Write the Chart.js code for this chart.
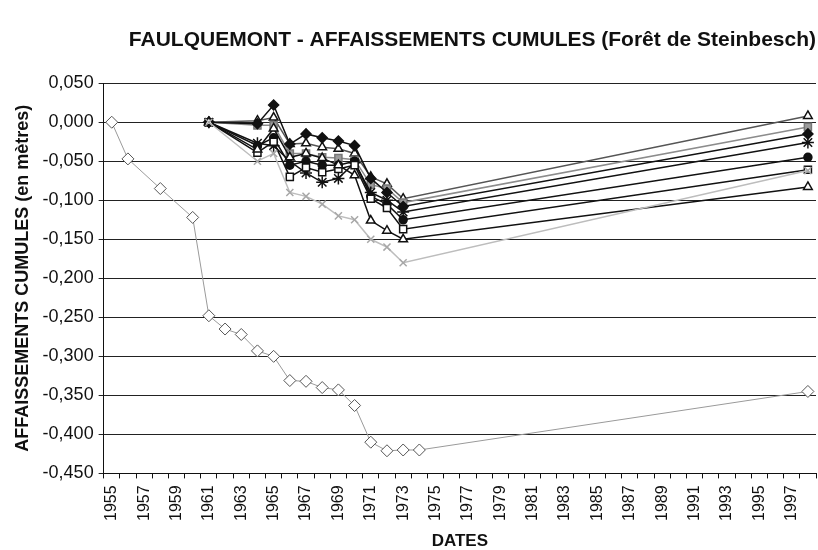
<!DOCTYPE html>
<html>
<head>
<meta charset="utf-8">
<script src="https://cdn.jsdelivr.net/npm/chart.js@4.4.0/dist/chart.umd.min.js"></script>
<style>
  html, body { margin: 0; padding: 0; background: #fff; }
  #wrap { width: 818px; height: 550px; }
</style>
</head>
<body>
<div id="wrap"><canvas id="subsidenceChart"></canvas></div>
<script>
// axe des dates (une catégorie par année)
var years = ['1955','1956','1957','1958','1959','1960','1961','1962','1963','1964',
  '1965','1966','1967','1968','1969','1970','1971','1972','1973','1974','1975','1976',
  '1977','1978','1979','1980','1981','1982','1983','1984','1985','1986','1987','1988',
  '1989','1990','1991','1992','1993','1994','1995','1996','1997','1998'];

// repère ancien (losanges blancs)
var oldYears = [1955,1956,1958,1960,1961,1962,1963,1964,1965,1966,1967,1968,1969,1970,1971,1972,1973,1974,1998];
var oldValues = [0,-0.047,-0.085,-0.122,-0.248,-0.265,-0.272,-0.293,-0.300,-0.331,-0.332,-0.340,-0.343,-0.363,-0.410,-0.421,-0.420,-0.420,-0.345];

// repères de la forêt (mesures 1961 -> 1998)
var forestYears = [1961,1964,1965,1966,1967,1968,1969,1970,1971,1972,1973,1998];
var triTop    = [0, 0.002, 0.006,-0.028,-0.027,-0.032,-0.034,-0.040,-0.070,-0.079,-0.098, 0.008];
var graySq    = [0,-0.004,-0.004,-0.040,-0.040,-0.045,-0.046,-0.048,-0.080,-0.085,-0.103,-0.006];
var blackDia  = [0,-0.002, 0.022,-0.028,-0.015,-0.020,-0.024,-0.030,-0.072,-0.090,-0.108,-0.015];
var asterisk  = [0,-0.027,-0.030,-0.050,-0.065,-0.077,-0.072,-0.052,-0.090,-0.100,-0.115,-0.026];
var circle    = [0,-0.030,-0.020,-0.055,-0.050,-0.055,-0.055,-0.050,-0.095,-0.105,-0.125,-0.045];
var openSq    = [0,-0.039,-0.025,-0.070,-0.058,-0.064,-0.060,-0.055,-0.098,-0.110,-0.137,-0.061];
var triLow    = [0,-0.035,-0.008,-0.045,-0.040,-0.046,-0.055,-0.068,-0.126,-0.139,-0.150,-0.083];
var lightX    = [0,-0.050,-0.040,-0.090,-0.095,-0.105,-0.120,-0.125,-0.150,-0.160,-0.180,-0.062];

function pts(ys, vals) {
  return ys.map(function(y, i) { return { x: String(y), y: vals[i] }; });
}

function serie(vals, style, line, fill, marker, radius) {
  return {
    data: pts(forestYears, vals),
    borderColor: line,
    borderWidth: 1.5,
    pointStyle: style,
    pointRadius: radius || 5,
    pointBorderColor: marker,
    pointBackgroundColor: fill,
    pointBorderWidth: 1.5,
    spanGaps: true,
    tension: 0
  };
}

var fontName = '"Liberation Sans", Arial, sans-serif';

var ctx = document.getElementById('subsidenceChart').getContext('2d');
var subsidenceChart = new Chart(ctx, {
  type: 'line',
  data: {
    labels: years,
    datasets: [
      {
        data: pts(oldYears, oldValues),
        borderColor: '#9a9a9a',
        borderWidth: 1,
        pointStyle: 'rectRot',
        pointRadius: 6,
        pointBorderColor: '#555',
        pointBackgroundColor: '#fff',
        pointBorderWidth: 1,
        spanGaps: true
      },
      serie(lightX, 'crossRot', '#bdbdbd', '#bdbdbd', '#a8a8a8', 5),
      serie(triLow, 'triangle', '#111', '#fff', '#111', 5),
      serie(openSq, 'rect', '#111', '#fff', '#111', 5),
      serie(circle, 'circle', '#111', '#111', '#111', 4),
      serie(asterisk, 'star', '#111', '#111', '#111', 6),
      serie(blackDia, 'rectRot', '#111', '#111', '#111', 5),
      serie(graySq, 'rect', '#8c8c8c', '#9c9c9c', '#777', 5),
      serie(triTop, 'triangle', '#555', '#fff', '#111', 5)
    ]
  },
  options: {
    responsive: true,
    maintainAspectRatio: false,
    animation: false,
    layout: { autoPadding: false, padding: { left: 12, right: 2, top: 28, bottom: 0 } },
    plugins: {
      legend: { display: false },
      tooltip: { enabled: false },
      title: {
        display: true,
        align: 'end',
        text: 'FAULQUEMONT - AFFAISSEMENTS CUMULES (Forêt de Steinbesch)',
        color: '#111',
        font: { family: fontName, size: 21, weight: 'bold' },
        padding: { top: 0, bottom: 30 }
      }
    },
    scales: {
      x: {
        type: 'category',
        offset: true,
        // pas de marge à droite pour le dernier libellé (vide)
        afterFit: function(s) { s.paddingRight = 0; s.paddingLeft = 0; },
        grid: { offset: true, drawOnChartArea: false, tickLength: 5, color: '#111' },
        border: { display: true, color: '#111', width: 1 },
        ticks: {
          autoSkip: false,
          minRotation: 90,
          maxRotation: 90,
          color: '#111',
          font: { family: fontName, size: 16 },
          padding: 7,
          callback: function(val, i) { return i % 2 === 0 ? years[i] : ''; }
        },
        title: {
          display: true,
          text: 'DATES',
          color: '#111',
          font: { family: fontName, size: 17, weight: 'bold', lineHeight: 1 },
          padding: { top: 5, bottom: 0 }
        }
      },
      y: {
        min: -0.45,
        max: 0.05,
        grid: { color: '#222', lineWidth: 1, tickLength: 5 },
        border: { display: true, color: '#111', width: 1 },
        ticks: {
          stepSize: 0.05,
          color: '#111',
          font: { family: fontName, size: 18 },
          padding: 5,
          callback: function(v) {
            var r = Math.round(v * 1000) / 1000;
            if (r === 0) r = 0;
            return r.toFixed(3).replace('.', ',');
          }
        },
        title: {
          display: true,
          text: 'AFFAISSEMENTS CUMULES (en mètres)',
          color: '#111',
          font: { family: fontName, size: 18, weight: 'bold' },
          padding: { top: 0, bottom: 4 }
        }
      }
    }
  }
});
</script>
</body>
</html>
